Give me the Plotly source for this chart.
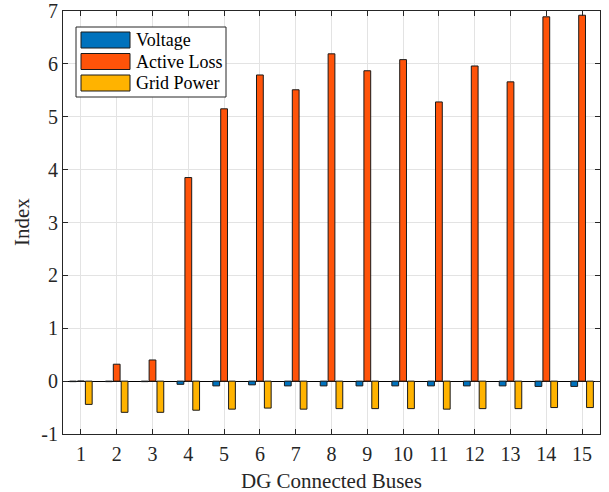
import plotly.graph_objects as go

buses = list(range(1, 16))
voltage = [-0.01, -0.01, -0.01, -0.06, -0.09, -0.07, -0.09, -0.09, -0.09, -0.09, -0.09, -0.09, -0.09, -0.10, -0.10]
active_loss = [0.0, 0.32, 0.40, 3.85, 5.15, 5.79, 5.51, 6.19, 5.87, 6.08, 5.28, 5.96, 5.66, 6.89, 6.92]
grid_power = [-0.44, -0.59, -0.59, -0.55, -0.53, -0.51, -0.53, -0.52, -0.52, -0.52, -0.53, -0.52, -0.52, -0.50, -0.50]
y_ticks = list(range(-1, 8))
y_tick_labels = [str(v) for v in y_ticks]

names = ["Voltage", "Active Loss", "Grid Power"]
colors = ["#0072BD", "#FF5309", "#FFB300"]
series = [voltage, active_loss, grid_power]

FONT = "Times New Roman, Liberation Serif, serif"
AX = "#262626"
EDGE = "#1a1a1a"

# plot area in pixels (for the hand-made MATLAB-style legend box and titles)
L, R, T, B = 63, 600, 11, 434
W, H = R - L, B - T


def px(x):
    return (x - L) / W


def py(y):
    return (B - y) / H


fig = go.Figure()
for n, c, s in zip(names, colors, series):
    fig.add_trace(go.Bar(x=buses, y=s, name=n, showlegend=False,
                         marker=dict(color=c, line=dict(color=EDGE, width=1))))

shapes = [dict(type="rect", xref="paper", yref="paper", layer="above",
               x0=px(76), x1=px(226), y0=py(97), y1=py(27),
               fillcolor="white", line=dict(color=AX, width=1))]
annotations = []
row_y = [40, 61.5, 83]
for n, c, yy in zip(names, colors, row_y):
    shapes.append(dict(type="rect", xref="paper", yref="paper", layer="above",
                       x0=px(81), x1=px(130), y0=py(yy + 8), y1=py(yy - 8),
                       fillcolor=c, line=dict(color=EDGE, width=1)))
    annotations.append(dict(x=px(134), y=py(yy), xref="paper", yref="paper",
                            xanchor="left", yanchor="middle", showarrow=False, text=n,
                            font=dict(family=FONT, size=18, color="black")))

# axis titles
annotations.append(dict(x=px(331.5), y=py(481), xref="paper", yref="paper",
                        xanchor="center", yanchor="middle", showarrow=False,
                        text="DG Connected Buses", font=dict(family=FONT, size=21, color=AX)))
annotations.append(dict(x=px(22), y=py(222), xref="paper", yref="paper",
                        xanchor="center", yanchor="middle", showarrow=False, textangle=-90,
                        text="Index", font=dict(family=FONT, size=21, color=AX)))

fig.update_layout(
    width=609, height=492,
    margin=dict(l=L, r=609 - R, t=T, b=492 - B),
    paper_bgcolor="white", plot_bgcolor="white",
    barmode="group", bargap=0.34, bargroupgap=0.14,
    font=dict(family=FONT, size=19, color=AX),
    showlegend=False,
    shapes=shapes, annotations=annotations,
)
fig.update_xaxes(
    automargin=False,
    range=[0.5, 15.5], tickvals=buses, ticktext=[str(b) for b in buses],
    showline=True, linecolor=AX, linewidth=1, mirror="allticks",
    ticks="inside", ticklen=5, tickcolor=AX,
    showgrid=True, gridcolor="#e3e3e3", gridwidth=1,
    zeroline=False,
    tickfont=dict(family=FONT, size=20, color=AX),
    ticklabelstandoff=2,
)
fig.update_yaxes(
    automargin=False,
    range=[-1, 7], tickvals=y_ticks, ticktext=y_tick_labels,
    showline=True, linecolor=AX, linewidth=1, mirror="allticks",
    ticks="inside", ticklen=5, tickcolor=AX,
    showgrid=True, gridcolor="#e3e3e3", gridwidth=1,
    zeroline=True, zerolinecolor="black", zerolinewidth=1,
    tickfont=dict(family=FONT, size=20, color=AX),
    ticklabelstandoff=0,
)

fig.write_html("out.html")
